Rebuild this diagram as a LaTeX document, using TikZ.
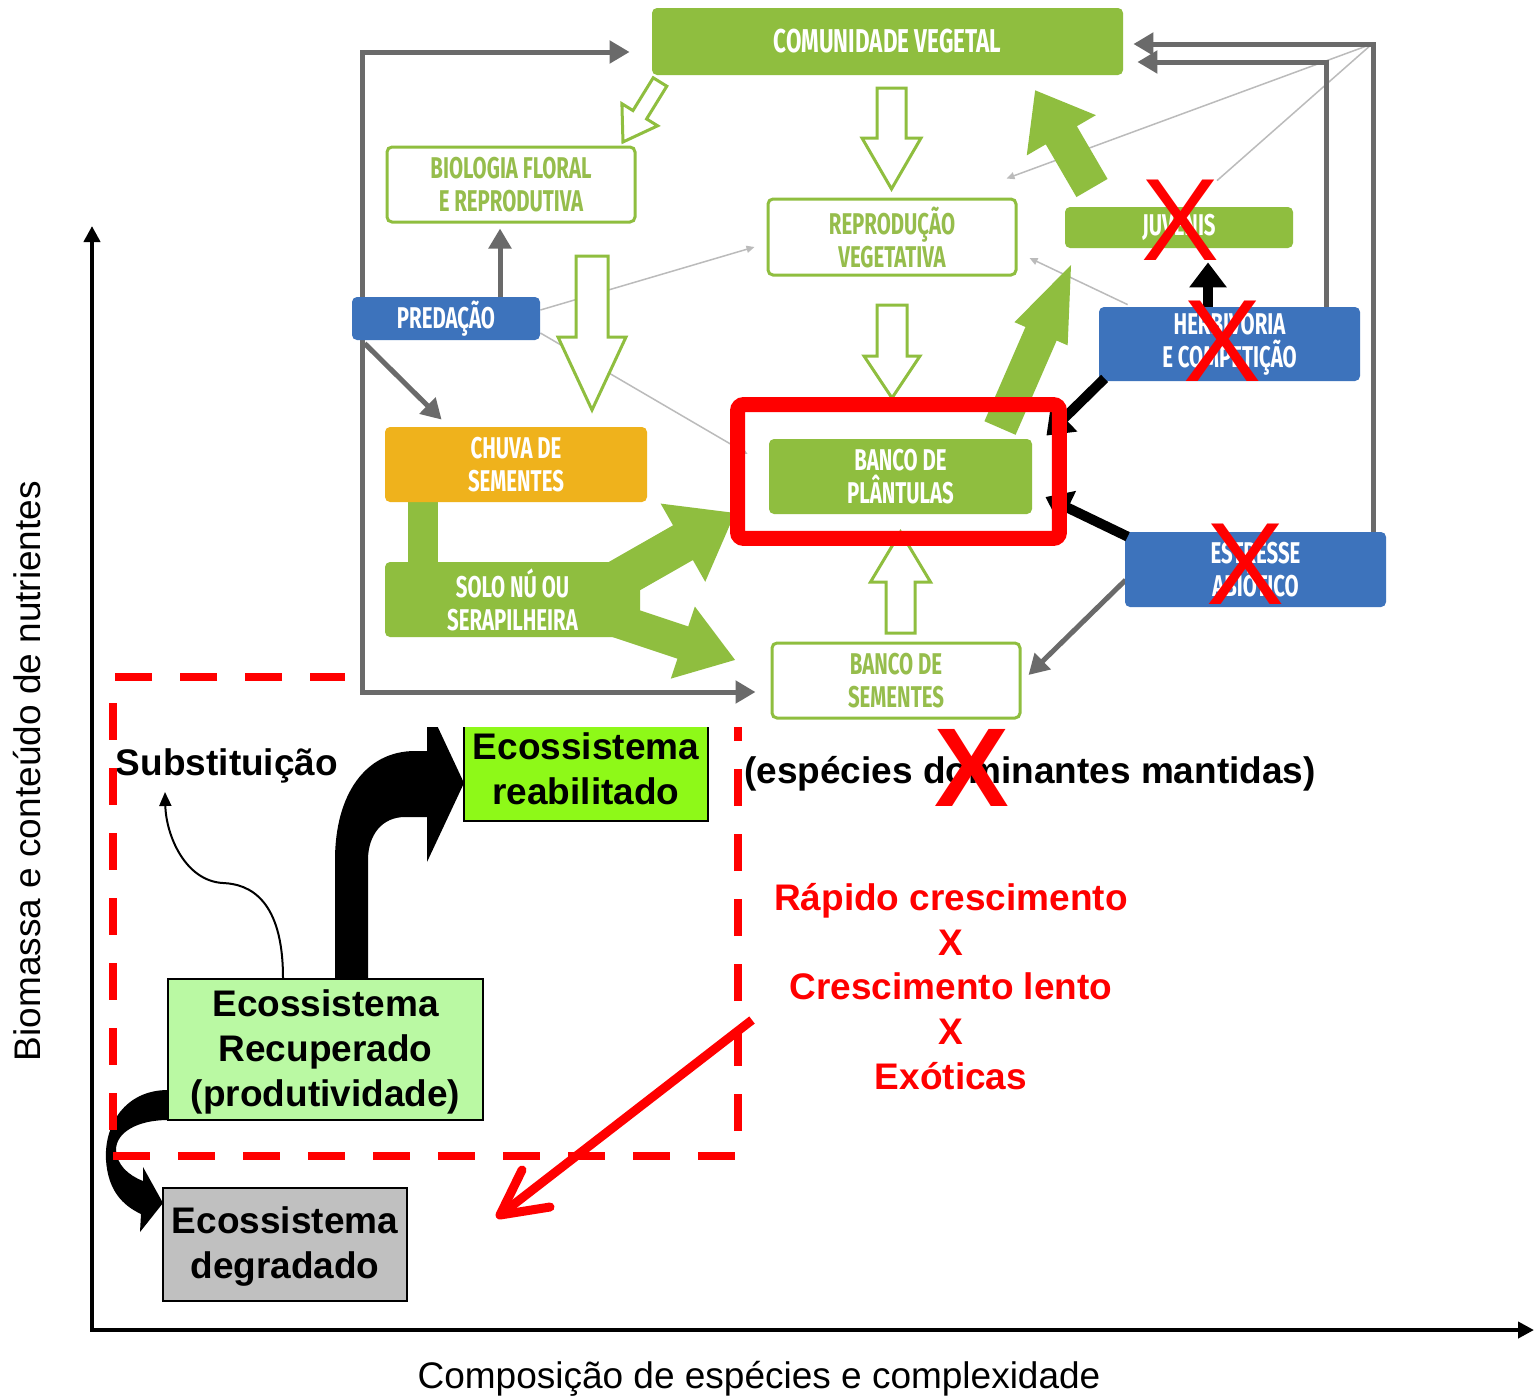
\documentclass[tikz,border=0pt]{standalone}
\usepackage{fontspec}
\setmainfont{Liberation Sans}
\newfontfamily\condfont[FakeStretch=0.68]{Fira Sans}
\usetikzlibrary{arrows.meta,calc}

\definecolor{cgreen}{HTML}{8FBE3F}
\definecolor{cblue}{HTML}{3D73BC}
\definecolor{corange}{HTML}{EFB21C}
\definecolor{cgray}{HTML}{6A6A6A}
\definecolor{clight}{HTML}{BBBBBB}
\definecolor{ctxtgreen}{HTML}{96BD4C}
\definecolor{crecup}{HTML}{BAF9A3}
\definecolor{creab}{HTML}{8EF918}
\definecolor{cdegr}{HTML}{C0C0C0}

\pgfdeclarelayer{lower}
\pgfdeclarelayer{cover}
\pgfdeclarelayer{links}
\pgfsetlayers{lower,cover,links,main}

% block arrow: style, tail x, tail y, angle, length, shaft half width, head half width, head length
\newcommand{\blockarr}[8]{%
  \begin{scope}[shift={(#2,#3)},rotate=#4]
    \path[#1] (0,-#6) -- ({#5-#8},-#6) -- ({#5-#8},-#7) -- (#5,0)
      -- ({#5-#8},#7) -- ({#5-#8},#6) -- (0,#6) -- cycle;
  \end{scope}}

\begin{document}
\begin{tikzpicture}[x=0.5pt,y=-0.5pt,
  cyc/.style={inner sep=0pt, align=center, rounded corners=2.5pt,
    font=\condfont\bfseries\fontsize{15}{16.5}\selectfont},
  cfill/.style={cyc, fill=#1, text=white},
  cline/.style={cyc, draw=cgreen, line width=1.5pt, fill=white, text=ctxtgreen},
  eco/.style={draw=black, line width=1pt, inner sep=0pt, align=center,
    font=\bfseries\fontsize{18.5}{22.5}\selectfont},
  bold/.style={inner sep=0pt, align=center, font=\bfseries\fontsize{18.5}{22.4}\selectfont},
  axislabel/.style={inner sep=0pt, font=\fontsize{18.5}{22}\selectfont},
  garrow/.style={draw=cgray, line width=2.5pt, >={Triangle[length=10pt,width=11pt]}},
  karrow/.style={draw=black, line width=5pt, >={Triangle[length=12.5pt,width=18pt]}},
  thinarrow/.style={draw=clight, line width=0.75pt, >={Triangle[length=4pt,width=3.5pt]}},
  hollow/.style={fill=white, draw=cgreen, line width=1.5pt},
  solid/.style={fill=cgreen},
  redx/.style={text=red, inner sep=0pt, font=\fontsize{58.5}{58.5}\selectfont},
]
\useasboundingbox (0,0) rectangle (1534,1397);

%================ lower chart =================
\begin{pgfonlayer}{lower}
% axes
\coordinate (ytop) at (92,226);
\coordinate (origin) at (92,1330);
\coordinate (xend) at (1534,1330);
\draw[line width=2pt, {Triangle[length=8pt,width=8pt]}-{Triangle[length=8pt,width=8pt]}]
  (ytop) -- (origin) -- (xend);
\node[axislabel, rotate=90] (ylab) at (27,771) {Biomassa e conteúdo de nutrientes};
\node[axislabel, anchor=base] (xlab) at (759,1388) {Composição de espécies e complexidade};

% ecosystem states
\node[eco, fill=crecup, minimum width=157.5pt, minimum height=70.5pt] (recup) at (325.5,1049.5)
  {\strut Ecossistema\\Recuperado\\(produtividade)};
\node[eco, fill=creab, minimum width=122pt, minimum height=52.5pt] (reab) at (586,768.5)
  {Ecossistema\\reabilitado};
\node[eco, fill=cdegr, minimum width=122pt, minimum height=56.5pt] (degr) at (285,1244.5)
  {\strut Ecossistema\\degradado};

% bent arrow: recovered -> rehabilitated
\fill (335,978) -- (335,860) .. controls (335,795) and (365,751) .. (415,751) -- (427,751)
  -- (427,704) -- (464,783) -- (427,862) -- (427,817) -- (405,817)
  .. controls (382,817) and (368,835) .. (368,860) -- (368,978) -- cycle;
% curved arrow: recovered -> degraded
\fill (168,1090) .. controls (125,1090) and (104,1125) .. (106,1160)
  .. controls (108,1190) and (122,1205) .. (141,1214) -- (140,1232) -- (163,1203) -- (143,1167)
  -- (143,1181) .. controls (128,1175) and (117,1165) .. (116,1150)
  .. controls (116,1132) and (138,1120) .. (168,1120) -- cycle;

% substitution
\node[bold] (subst) at (227,766) {Substituição};
\coordinate (subtip) at (165,792);
\draw[line width=1pt, -{Triangle[length=7pt,width=6pt]}] ($(recup.north)+(-42.5,0)$)
  .. controls (283,900) and (250,884) .. (223,883)
  .. controls (185,881) and (166,835) .. (subtip);

% dashed frame
\draw[red, line width=4pt, dash pattern=on 18.5pt off 14pt]
  (113,1156) -- (738,1156) -- (738,677) -- (113,677) -- cycle;

% growth strategies
\node[bold, text=red] (traits) at (951,986.5)
  {Rápido crescimento\\X\\Crescimento lento\\X\\Exóticas};
\coordinate (rstart) at (752,1020);
\coordinate (rtip) at (500,1215);
\draw[red, line width=4.5pt] (rstart) -- (rtip);
\draw[red, line width=4.5pt, line cap=round, line join=round]
  ($(rtip)+(22,-45)$) -- (rtip) -- ($(rtip)+(50,-8)$);

\node[bold] (domin) at (1030,774) {(espécies dominantes mantidas)};
\node[redx, font=\bfseries\fontsize{56}{56}\selectfont] (xdomin) at (972,768) {X};
\end{pgfonlayer}

%================ regeneration cycle =================
\begin{pgfonlayer}{cover}
\fill[white] (345,0) rectangle (1534,727);
\end{pgfonlayer}

% stages and factors
\node[cfill=cgreen, minimum width=235.5pt, minimum height=33.5pt,
      font=\condfont\bfseries\fontsize{16.5}{18}\selectfont] (comun) at (887.5,41.5) {COMUNIDADE VEGETAL};
\node[cline, minimum width=124pt, minimum height=37.5pt] (biol) at (511,184.5) {BIOLOGIA FLORAL\\E REPRODUTIVA};
\node[cline, minimum width=124pt, minimum height=38pt] (repro) at (892,237) {REPRODUÇÃO\\VEGETATIVA};
\node[cfill=cgreen, minimum width=114pt, minimum height=20.5pt] (juv) at (1179,227.5) {JUVENIS};
\node[cfill=cblue, minimum width=94pt, minimum height=21.5pt] (pred) at (446,318.5) {PREDAÇÃO};
\node[cfill=cblue, minimum width=130.5pt, minimum height=37pt] (herb) at (1229.5,344) {HERBIVORIA\\E COMPETIÇÃO};
\node[cfill=corange, minimum width=131pt, minimum height=37.5pt] (chuva) at (516,464.5) {CHUVA DE\\SEMENTES};
\node[cfill=cgreen, minimum width=131.5pt, minimum height=37.5pt] (plant) at (900.5,476.5) {BANCO DE\\PLÂNTULAS};
\node[cfill=cgreen, minimum width=127.5pt, minimum height=37.5pt] (solo) at (512.5,599.5) {SOLO NÚ OU\\SERAPILHEIRA};
\node[cfill=cblue, minimum width=130.5pt, minimum height=37.5pt] (estr) at (1255.5,569.5) {ESTRESSE\\ABIÓTICO};
\node[cline, minimum width=124pt, minimum height=37.5pt] (bsem) at (896,680.5) {BANCO DE\\SEMENTES};

\begin{pgfonlayer}{links}
% faint influence lines
\coordinate (cornerR) at (1372,44);
\draw[thinarrow,->] ($(pred.east)+(0,-8.5)$) -- ($(repro.west)+(-12,10)$);
\draw[thinarrow,->] ($(pred.east)+(0,14.5)$) -- ($(plant.west)+(-21,-22.5)$);
\draw[thinarrow,->] (cornerR) -- ($(repro.north east)+(-11,-19)$);
\draw[thinarrow] (cornerR) -- ($(juv.north)+(38,-26)$);
\draw[thinarrow,->] ($(herb.north west)+(29,-2)$) -- ($(repro.east)+(12,21)$);

% hollow flow arrows
\blockarr{hollow}{660}{82}{-121.7}{70.5}{8}{21}{32}
\blockarr{hollow}{891.5}{88}{-90}{101}{14.5}{29.5}{51}
\blockarr{hollow}{892}{305}{-90}{93}{15}{28}{42}
\blockarr{hollow}{592}{256}{-90}{154}{16}{34}{73}
\blockarr{hollow}{900.5}{633}{90}{101}{14.5}{30}{50}

% grey feedback loops
\coordinate (loopTL) at (362,52);
\coordinate (loopBL) at (362,692);
\draw[garrow,<->] ($(comun.west)+(-22,10.5)$) -- (loopTL) -- (loopBL) -- ($(bsem.west)+(-15,11.5)$);
\draw[garrow,->] ($(herb.north)+(96.5,0)$) |- ($(comun.east)+(14,20.5)$);
\draw[garrow,->] ($(estr.north)+(117.5,0)$) |- ($(comun.east)+(10,2.5)$);
\coordinate (pbx) at (500,0);
\draw[garrow,->] (pred.north -| pbx) -- ($(biol.south -| pbx)+(0,5)$);
\draw[garrow,->] ($(pred.south west)+(13,3)$) -- ($(chuva.north west)+(57,-7)$);
\draw[garrow,->] ($(estr.west)+(1,10.5)$) -- ($(bsem.east)+(7,-5.5)$);

% seed rain feeds the soil
\fill[cgreen] (408,500) rectangle (438,564);

% soil outflow arrows
\blockarr{solid}{600}{590}{29.7}{155.5}{20}{45}{60}
\blockarr{solid}{600}{615}{-18.4}{142.3}{17}{38}{55}
\end{pgfonlayer}

% growth arrows
\blockarr{solid}{1000}{428}{66.46}{177.8}{17}{29}{75}
\blockarr{solid}{1092}{188}{120.2}{113}{18}{40}{52}

% black pressure arrows
\coordinate (hjx) at (1208,0);
\draw[karrow,->] (herb.north -| hjx) -- ($(juv.south -| hjx)+(0,14)$);
\draw[karrow,->] ($(herb.south west)+(6,-3)$) -- ($(plant.north east)+(14,-3)$);
\draw[karrow,->] ($(estr.north west)+(3,5)$) -- ($(plant.east)+(13,20.5)$);

% highlight around seedling bank
\draw[red, line width=7.5pt, rounded corners=3pt]
  ($(plant.south west)+(-31,24)$) rectangle ($(plant.north east)+(27,-34)$);

% crossed-out factors
\node[redx] (xjuv) at (1180,220) {X};
\node[redx] (xherb) at (1222,341.5) {X};
\node[redx] (xestr) at (1245,564.5) {X};
\end{tikzpicture}
\end{document}
